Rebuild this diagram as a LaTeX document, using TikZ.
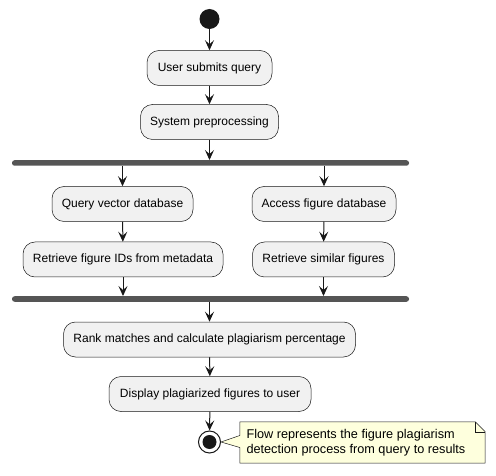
\documentclass[tikz,border=0pt]{standalone}
\usepackage{fontspec}
\setmainfont{Liberation Sans}
\usetikzlibrary{arrows.meta,calc}
\definecolor{boxfill}{HTML}{F1F1F1}
\definecolor{lineclr}{HTML}{181818}
\definecolor{barclr}{HTML}{555555}
\definecolor{notefill}{HTML}{FEFFDD}
\tikzset{
  act/.style={draw=lineclr, line width=0.5pt, fill=boxfill, rounded corners=12pt,
    minimum height=35pt, inner sep=0pt, font=\fontsize{12}{14}\selectfont},
  bar/.style={fill=barclr, draw=none, rounded corners=2.5pt, minimum width=397pt,
    minimum height=5.5pt, inner sep=0pt},
  flow/.style={draw=lineclr, line width=1pt, -{Stealth[length=10pt,width=9pt,inset=4pt]}},
}
\begin{document}
\begin{tikzpicture}[x=1pt,y=-1pt]
\useasboundingbox (0,0) rectangle (496,476);
\node[circle, fill=lineclr, minimum size=20pt, inner sep=0pt] (start) at (209.5,19) {};
\node[act, minimum width=125pt] (a1) at (209.5,68) {User submits query};
\node[act, minimum width=138pt] (a2) at (209.5,122) {System preprocessing};
\node[bar] (fork) at (210.5,163) {};
\node[act, minimum width=141pt] (l1) at (122.5,204) {Query vector database};
\node[act, minimum width=200pt] (l2) at (123,259.5) {Retrieve figure IDs from metadata};
\node[act, minimum width=144pt] (r1) at (324,204) {Access figure database};
\node[act, minimum width=142pt] (r2) at (323.5,259.5) {Retrieve similar figures};
\node[bar] (join) at (210.5,299) {};
\node[act, minimum width=292pt] (b1) at (209.5,339.5) {Rank matches and calculate plagiarism percentage};
\node[act, minimum width=202pt] (b2) at (210,394) {Display plagiarized figures to user};
\node[circle, draw=lineclr, line width=1pt, fill=white, minimum size=22pt, inner sep=0pt] (stop) at (209.5,442) {};
\node[circle, fill=lineclr, minimum size=14pt, inner sep=0pt] at (stop) {};
% note
\node[minimum width=245pt, minimum height=41pt, inner sep=0pt] (note) at (362.5,442.5) {};
\draw[draw=lineclr, line width=0.5pt, fill=notefill]
  (note.north west) -- ($(note.north east)+(-10,0)$) -- ($(note.north east)+(0,10)$)
  -- (note.south east) -- (note.south west) -- ($(note.west)+(0,5)$)
  -- (stop.east) -- ($(note.west)+(0,-7)$) -- cycle;
\draw[draw=lineclr, line width=0.5pt] ($(note.north east)+(-10,0)$) -- ($(note.north east)+(-10,10)$) -- ($(note.north east)+(0,10)$);
\node[anchor=west, align=left, font=\fontsize{12.7}{15.5}\selectfont, inner sep=0pt] at ($(note.west)+(6.5,0)$)
  {Flow represents the figure plagiarism\\detection process from query to results};
% flows
\draw[flow] (start) -- (a1);
\draw[flow] (a1) -- (a2);
\draw[flow] (a2) -- (a2 |- fork.north);
\draw[flow] (l1 |- fork.south) -- (l1);
\draw[flow] (r1 |- fork.south) -- (r1);
\draw[flow] (l1) -- (l2);
\draw[flow] (r1) -- (r2);
\draw[flow] (l2) -- (l2 |- join.north);
\draw[flow] (r2) -- (r2 |- join.north);
\draw[flow] (b1 |- join.south) -- (b1);
\draw[flow] (b1) -- (b2);
\draw[flow] (b2) -- (stop);
\end{tikzpicture}
\end{document}
